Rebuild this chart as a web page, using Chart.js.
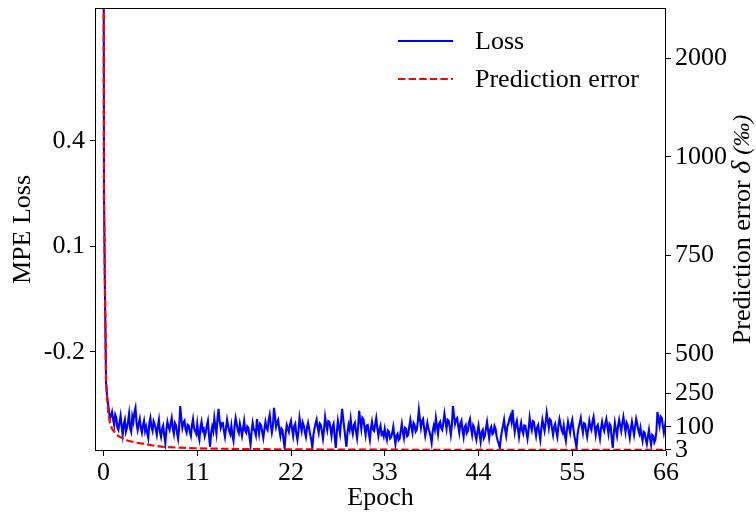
<!DOCTYPE html>
<html>
<head>
<meta charset="utf-8">
<script src="https://cdn.jsdelivr.net/npm/chart.js@4/dist/chart.umd.min.js"></script>
<style>
  html, body { margin: 0; padding: 0; background: #fff; }
  canvas { display: block; }
</style>
</head>
<body>
<canvas id="c" width="756" height="514"></canvas>
<script>
// ---- data ---------------------------------------------------------------
const EPOCH_TICKS = [0, 11, 22, 33, 44, 55, 66];
const LOSS_TICKS = [0.4, 0.1, -0.2];
const ERROR_TICKS = [3, 100, 250, 500, 750, 1000, 2000];

// MPE loss: steep drop during the first epoch, then logged every 1/8 epoch
const lossHeadEpochs = [0, 0.06, 0.18, 0.3, 0.45, 0.6, 0.75, 0.875];
const lossHead = [1.3, 0.232, -0.052, -0.288, -0.337, -0.36, -0.39, -0.383];
const LOSS_TAIL_START = 1;
const LOSS_TAIL_STEP = 0.125;
const lossTail = [
  -0.371, -0.392, -0.408, -0.379, -0.388, -0.415, -0.422, -0.401,
  -0.382, -0.411, -0.436, -0.405, -0.393, -0.427, -0.416, -0.398,
  -0.376, -0.419, -0.428, -0.384, -0.399, -0.372, -0.359, -0.403,
  -0.422, -0.405, -0.391, -0.417, -0.430, -0.409, -0.396, -0.425,
  -0.413, -0.431, -0.445, -0.402, -0.388, -0.414, -0.425, -0.397,
  -0.405, -0.420, -0.436, -0.411, -0.393, -0.428, -0.442, -0.419,
  -0.410, -0.437, -0.459, -0.421, -0.399, -0.413, -0.422, -0.404,
  -0.388, -0.417, -0.433, -0.402, -0.408, -0.431, -0.447, -0.415,
  -0.354, -0.389, -0.416, -0.401, -0.396, -0.421, -0.430, -0.407,
  -0.410, -0.428, -0.439, -0.409, -0.391, -0.418, -0.425, -0.433,
  -0.405, -0.436, -0.450, -0.414, -0.399, -0.424, -0.419, -0.440,
  -0.428, -0.409, -0.396, -0.437, -0.470, -0.432, -0.413, -0.426,
  -0.388, -0.412, -0.433, -0.390, -0.362, -0.398, -0.416, -0.403,
  -0.402, -0.425, -0.442, -0.417, -0.393, -0.411, -0.425, -0.434,
  -0.410, -0.438, -0.453, -0.412, -0.388, -0.405, -0.422, -0.431,
  -0.405, -0.421, -0.439, -0.418, -0.396, -0.424, -0.430, -0.412,
  -0.416, -0.441, -0.464, -0.427, -0.402, -0.419, -0.425, -0.437,
  -0.391, -0.414, -0.433, -0.405, -0.410, -0.429, -0.445, -0.420,
  -0.399, -0.416, -0.422, -0.394, -0.379, -0.408, -0.430, -0.411,
  -0.359, -0.384, -0.413, -0.400, -0.393, -0.421, -0.439, -0.418,
  -0.422, -0.452, -0.473, -0.431, -0.408, -0.419, -0.428, -0.406,
  -0.396, -0.420, -0.439, -0.412, -0.405, -0.433, -0.450, -0.425,
  -0.388, -0.409, -0.425, -0.401, -0.410, -0.428, -0.442, -0.416,
  -0.402, -0.418, -0.436, -0.449, -0.473, -0.437, -0.419, -0.404,
  -0.393, -0.415, -0.430, -0.404, -0.408, -0.426, -0.447, -0.421,
  -0.385, -0.406, -0.422, -0.397, -0.399, -0.417, -0.439, -0.414,
  -0.405, -0.441, -0.473, -0.428, -0.396, -0.415, -0.433, -0.398,
  -0.362, -0.391, -0.416, -0.445, -0.470, -0.429, -0.408, -0.421,
  -0.391, -0.417, -0.433, -0.409, -0.402, -0.426, -0.445, -0.412,
  -0.368, -0.397, -0.419, -0.388, -0.393, -0.414, -0.436, -0.410,
  -0.408, -0.431, -0.450, -0.418, -0.399, -0.421, -0.425, -0.405,
  -0.388, -0.416, -0.439, -0.421, -0.410, -0.435, -0.430, -0.441,
  -0.419, -0.437, -0.450, -0.424, -0.428, -0.446, -0.442, -0.431,
  -0.413, -0.440, -0.462, -0.438, -0.433, -0.451, -0.447, -0.425,
  -0.405, -0.429, -0.445, -0.416, -0.419, -0.440, -0.436, -0.412,
  -0.393, -0.414, -0.430, -0.402, -0.408, -0.427, -0.422, -0.399,
  -0.365, -0.392, -0.416, -0.397, -0.391, -0.418, -0.439, -0.420,
  -0.402, -0.419, -0.428, -0.441, -0.459, -0.425, -0.410, -0.422,
  -0.388, -0.411, -0.433, -0.405, -0.399, -0.417, -0.422, -0.400,
  -0.376, -0.398, -0.419, -0.393, -0.396, -0.414, -0.436, -0.409,
  -0.354, -0.381, -0.405, -0.392, -0.388, -0.412, -0.430, -0.404,
  -0.396, -0.423, -0.442, -0.414, -0.408, -0.431, -0.425, -0.401,
  -0.391, -0.418, -0.436, -0.409, -0.416, -0.437, -0.450, -0.427,
  -0.410, -0.435, -0.456, -0.428, -0.422, -0.446, -0.439, -0.417,
  -0.399, -0.424, -0.445, -0.420, -0.413, -0.434, -0.430, -0.411,
  -0.419, -0.440, -0.453, -0.461, -0.473, -0.444, -0.425, -0.410,
  -0.393, -0.421, -0.439, -0.413, -0.405, -0.391, -0.382, -0.399,
  -0.365, -0.401, -0.428, -0.407, -0.396, -0.420, -0.442, -0.418,
  -0.402, -0.424, -0.433, -0.409, -0.410, -0.429, -0.447, -0.423,
  -0.388, -0.410, -0.422, -0.397, -0.399, -0.421, -0.439, -0.415,
  -0.408, -0.431, -0.450, -0.417, -0.393, -0.410, -0.425, -0.401,
  -0.373, -0.394, -0.416, -0.392, -0.396, -0.418, -0.436, -0.413,
  -0.405, -0.427, -0.442, -0.410, -0.391, -0.407, -0.422, -0.430,
  -0.410, -0.436, -0.453, -0.421, -0.399, -0.415, -0.430, -0.406,
  -0.393, -0.418, -0.439, -0.455, -0.473, -0.434, -0.416, -0.402,
  -0.388, -0.412, -0.430, -0.403, -0.405, -0.425, -0.442, -0.419,
  -0.396, -0.413, -0.422, -0.398, -0.385, -0.411, -0.436, -0.414,
  -0.408, -0.429, -0.447, -0.418, -0.399, -0.416, -0.425, -0.404,
  -0.391, -0.414, -0.433, -0.405, -0.410, -0.444, -0.473, -0.431,
  -0.402, -0.422, -0.439, -0.411, -0.393, -0.409, -0.425, -0.403,
  -0.385, -0.407, -0.428, -0.401, -0.408, -0.427, -0.445, -0.419,
  -0.399, -0.418, -0.436, -0.412, -0.391, -0.405, -0.422, -0.433,
  -0.416, -0.438, -0.453, -0.427, -0.430, -0.449, -0.462, -0.441,
  -0.422, -0.447, -0.464, -0.436, -0.439, -0.458, -0.450, -0.426,
  -0.371, -0.392, -0.410, -0.384, -0.388, -0.409, -0.430, -0.412,
  -0.393
];

// Prediction error δ in per mille
const errorEpochs = [0, 0.06, 0.18, 0.3, 0.45, 0.56, 0.75, 0.96, 1.35, 1.7, 2.14, 2.88,
  3.8, 4.87, 5.8, 6.83, 8.74, 10.74, 13, 16, 19, 22, 26, 30, 35, 40, 45, 50, 55, 60, 66];
const predictionError = [3200, 890, 636, 314, 219, 162, 120, 95, 75, 63, 54, 42,
  34, 28, 22, 17, 12.7, 10.2, 8.5, 7.2, 6.3, 5.6, 5, 4.5, 4.1, 3.8, 3.6, 3.4, 3.3, 3.2, 3.1];

// ---- error axis: piecewise-linear value -> height mapping -------------------
// [value, fraction of axis height from the bottom]
const ERROR_AXIS_BREAKS = [
  [-1.2, 0], [3, 0.0023], [100, 0.0542], [250, 0.1309], [500, 0.219],
  [750, 0.4424], [1000, 0.6637], [2000, 0.8871], [2505, 1]
];

class PiecewiseScale extends Chart.LinearScale {
  static id = 'piecewise';
  _fraction(value) {
    const k = ERROR_AXIS_BREAKS;
    let i = 1;
    while (i < k.length - 1 && value > k[i][0]) i++;
    const a = k[i - 1], b = k[i];
    return a[1] + (value - a[0]) * (b[1] - a[1]) / (b[0] - a[0]);
  }
  getPixelForValue(value) {
    return this.bottom - this._fraction(value) * (this.bottom - this.top);
  }
  getValueForPixel(pixel) {
    const f = (this.bottom - pixel) / (this.bottom - this.top);
    const k = ERROR_AXIS_BREAKS;
    let i = 1;
    while (i < k.length - 1 && f > k[i][1]) i++;
    const a = k[i - 1], b = k[i];
    return a[0] + (f - a[1]) * (b[0] - a[0]) / (b[1] - a[1]);
  }
}
Chart.register(PiecewiseScale);

// ---- assemble series ------------------------------------------------------
const lossPoints = lossHead.map((v, i) => ({ x: lossHeadEpochs[i], y: v }))
  .concat(lossTail.map((v, i) => ({ x: LOSS_TAIL_START + i * LOSS_TAIL_STEP, y: v })));
const errorPoints = predictionError.map((v, i) => ({ x: errorEpochs[i], y: v }));

const FONT = 'Liberation Serif, Times New Roman, serif';
const tickFont = { family: FONT, size: 26 };

const fixedTicks = (values) => (scale) => { scale.ticks = values.map(v => ({ value: v })); };
const fixedWidth = (w) => (scale) => { scale.width = w; scale.paddingTop = 0; scale.paddingBottom = 0; };

// white background, plot frame, legend and right-hand axis title
const decorations = {
  id: 'decorations',
  beforeDraw(chart) {
    const ctx = chart.ctx;
    ctx.save();
    ctx.fillStyle = '#ffffff';
    ctx.fillRect(0, 0, chart.width, chart.height);
    ctx.restore();
  },
  afterDatasetsDraw(chart) {
    const { ctx, chartArea: a } = chart;
    ctx.save();
    ctx.strokeStyle = '#000000';
    ctx.lineWidth = 1;
    ctx.strokeRect(Math.round(a.left) + 0.5, Math.round(a.top) + 0.5,
      Math.round(a.right - a.left) - 1, Math.round(a.bottom - a.top) - 1);

    // legend
    const ds = chart.data.datasets;
    const rows = [{ d: ds[0], y: 41 }, { d: ds[1], y: 79 }];
    rows.forEach(r => {
      ctx.beginPath();
      ctx.strokeStyle = r.d.borderColor;
      ctx.lineWidth = 2;
      ctx.setLineDash(r.d.borderDash || []);
      ctx.moveTo(398, r.y);
      ctx.lineTo(453, r.y);
      ctx.stroke();
      ctx.setLineDash([]);
      ctx.fillStyle = '#000000';
      ctx.font = '26px ' + FONT;
      ctx.textAlign = 'left';
      ctx.textBaseline = 'middle';
      ctx.fillText(r.d.label, 475, r.y + 1);
    });

    // right axis title, reading upwards
    const parts = [
      { t: 'Prediction error ', f: '26px ' + FONT },
      { t: 'δ', f: 'italic 28px ' + FONT },
      { t: ' (‰)', f: 'italic 24px ' + FONT }
    ];
    let total = 0;
    parts.forEach(p => { ctx.font = p.f; p.w = ctx.measureText(p.t).width; total += p.w; });
    ctx.translate(743, (a.top + a.bottom) / 2);
    ctx.rotate(-Math.PI / 2);
    ctx.textAlign = 'left';
    ctx.textBaseline = 'middle';
    let x = -total / 2;
    parts.forEach(p => { ctx.font = p.f; ctx.fillText(p.t, x, 0); x += p.w; });
    ctx.restore();
  }
};

new Chart(document.getElementById('c'), {
  type: 'line',
  data: {
    datasets: [
      {
        label: 'Loss', data: lossPoints, yAxisID: 'yLoss',
        borderColor: '#0000ff', borderWidth: 2.1, pointRadius: 0, tension: 0, order: 1
      },
      {
        label: 'Prediction error', data: errorPoints, yAxisID: 'yErr',
        borderColor: '#ff0000', borderWidth: 2.2, borderDash: [7.4, 3.2],
        pointRadius: 0, tension: 0, order: 0
      }
    ]
  },
  options: {
    responsive: false,
    devicePixelRatio: 1,
    animation: false,
    layout: { padding: { top: 8, left: 0, right: 0, bottom: 0 } },
    plugins: { legend: { display: false }, tooltip: { enabled: false } },
    scales: {
      x: {
        type: 'linear', min: -1, max: 66,
        afterBuildTicks: fixedTicks(EPOCH_TICKS),
        afterFit: s => { s.height = 63; s.paddingLeft = 0; s.paddingRight = 0; },
        border: { display: false },
        grid: { drawOnChartArea: false, drawTicks: true, tickLength: 5, tickColor: '#000', lineWidth: 1 },
        ticks: { font: tickFont, color: '#000', padding: 2, autoSkip: false, maxRotation: 0,
                 callback: v => String(v) },
        title: { display: true, text: 'Epoch', font: tickFont, color: '#000', padding: { top: 0, bottom: 0 } }
      },
      yLoss: {
        type: 'linear', position: 'left', min: -0.482, max: 0.778,
        afterBuildTicks: fixedTicks(LOSS_TICKS),
        afterFit: fixedWidth(95),
        border: { display: false },
        grid: { drawOnChartArea: false, drawTicks: true, tickLength: 5, tickColor: '#000', lineWidth: 1 },
        ticks: { font: tickFont, color: '#000', padding: 5, autoSkip: false, callback: v => String(v) },
        title: { display: true, text: 'MPE Loss', font: tickFont, color: '#000', padding: { top: 8, bottom: 0 } }
      },
      yErr: {
        type: 'piecewise', position: 'right', min: -1.2, max: 2505,
        afterBuildTicks: fixedTicks(ERROR_TICKS),
        afterFit: fixedWidth(90),
        border: { display: false },
        grid: { drawOnChartArea: false, drawTicks: true, tickLength: 5, tickColor: '#000', lineWidth: 1 },
        ticks: { font: tickFont, color: '#000', padding: 4, autoSkip: false, callback: v => String(v) }
      }
    }
  },
  plugins: [decorations]
});
</script>
</body>
</html>
